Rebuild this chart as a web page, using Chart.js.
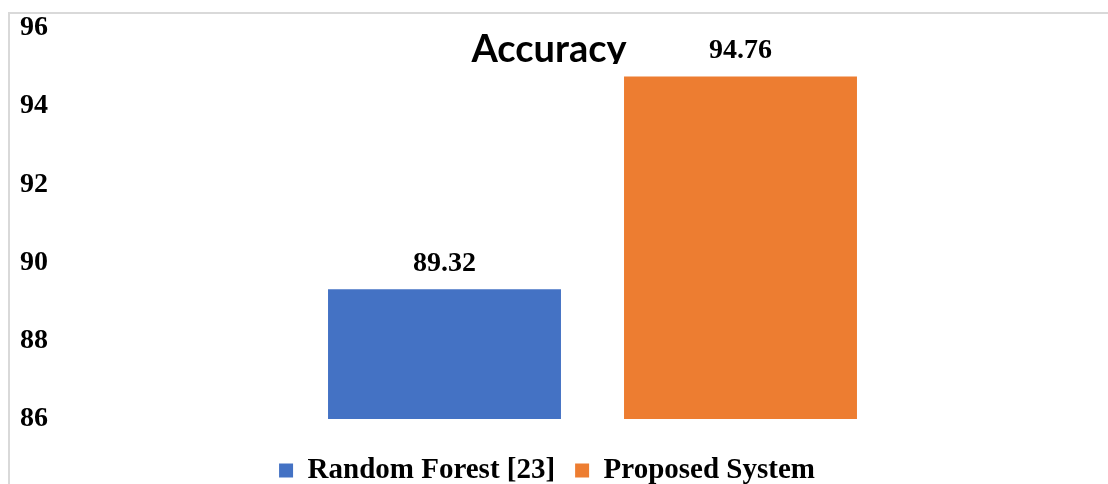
<!DOCTYPE html>
<html>
<head>
<meta charset="utf-8">
<title>Accuracy</title>
<script src="https://cdn.jsdelivr.net/npm/chart.js@4/dist/chart.umd.min.js"></script>
<style>
  html, body { margin: 0; padding: 0; overflow: hidden; background: #fff; width: 1108px; height: 484px; }
  #wrap { position: absolute; left: 0; top: 0; width: 1108px; height: 495px; }
  #frame { position: absolute; left: 8px; top: 12px; width: 1200px; height: 600px;
           border-top: 2px solid #d9d9d9; border-left: 2px solid #d9d9d9; pointer-events: none; }
</style>
</head>
<body>
<div id="wrap"><canvas id="chart" width="1108" height="495"></canvas></div>
<div id="frame"></div>
<script>
// Systems compared and their accuracy (%)
const categories = ['Random Forest [23]', 'Proposed System'];
const accuracy = [89.32, 94.76];
const barColors = ['#4472C4', '#ED7D31'];
const yTicks = [86, 88, 90, 92, 94, 96];
const chartTitle = 'Accuracy';

const serifFamily = "'Liberation Serif', 'Times New Roman', serif";
const tickFont = { family: serifFamily, weight: 'bold', size: 28 };
const legendFont = { family: serifFamily, weight: 'bold', size: 29 };

// One dataset per system so that each gets its own legend entry
const datasets = categories.map((name, i) => ({
  label: name,
  data: categories.map((_, j) => (j === i ? accuracy[i] : null)),
  backgroundColor: barColors[i],
  borderWidth: 0
}));

// Value printed above each bar
const valueLabels = {
  id: 'valueLabels',
  afterDatasetsDraw(chart) {
    const ctx = chart.ctx;
    ctx.save();
    ctx.font = `bold 28px ${serifFamily}`;
    ctx.fillStyle = '#000';
    ctx.textAlign = 'center';
    ctx.textBaseline = 'alphabetic';
    chart.data.datasets.forEach((ds, di) => {
      chart.getDatasetMeta(di).data.forEach((bar, i) => {
        const v = ds.data[i];
        if (v === null || v === undefined) return;
        ctx.fillText(v.toFixed(2), bar.x, bar.y - 18);
      });
    });
    ctx.restore();
  }
};

// Chart heading sitting inside the plot, its lower edge trimmed by the plot frame
const heading = {
  id: 'heading',
  afterDraw(chart) {
    const ctx = chart.ctx;
    const lg = chart.legend;
    const cx = (lg.left + lg.right) / 2 + 2;
    ctx.save();
    ctx.beginPath();
    ctx.rect(0, 0, chart.width, 64);
    ctx.clip();
    ctx.font = "bold 38px Lato, 'Noto Sans', sans-serif";
    ctx.fillStyle = '#000';
    ctx.textAlign = 'center';
    ctx.textBaseline = 'alphabetic';
    ctx.fillText(chartTitle, cx, 62);
    ctx.restore();
  }
};

Chart.defaults.color = '#000';

new Chart(document.getElementById('chart'), {
  type: 'bar',
  data: { labels: categories, datasets },
  options: {
    responsive: false,
    animation: false,
    devicePixelRatio: 1,
    layout: { padding: { left: 20, right: 34, top: 28, bottom: 0 } },
    datasets: { bar: { skipNull: true, categoryPercentage: 1, barPercentage: 0.787 } },
    scales: {
      x: {
        grid: { display: false },
        border: { display: false },
        ticks: { display: false },
        afterFit(scale) { scale.height = 17; }
      },
      y: {
        min: 86,
        max: 96,
        afterBuildTicks(scale) { scale.ticks = yTicks.map(v => ({ value: v })); },
        grid: { display: false },
        border: { display: false },
        ticks: { font: tickFont, crossAlign: 'far', padding: 0 },
        afterFit(scale) { scale.width = 276.5; }
      },
      yRight: {
        type: 'linear',
        position: 'right',
        grid: { display: false },
        border: { display: false },
        ticks: { display: false },
        afterFit(scale) { scale.width = 185.5; }
      }
    },
    plugins: {
      title: { display: false },
      tooltip: { enabled: false },
      legend: {
        position: 'bottom',
        labels: { font: legendFont, boxWidth: 14, boxHeight: 14, padding: 20, color: '#000' }
      }
    }
  },
  plugins: [valueLabels, heading]
});
</script>
</body>
</html>
